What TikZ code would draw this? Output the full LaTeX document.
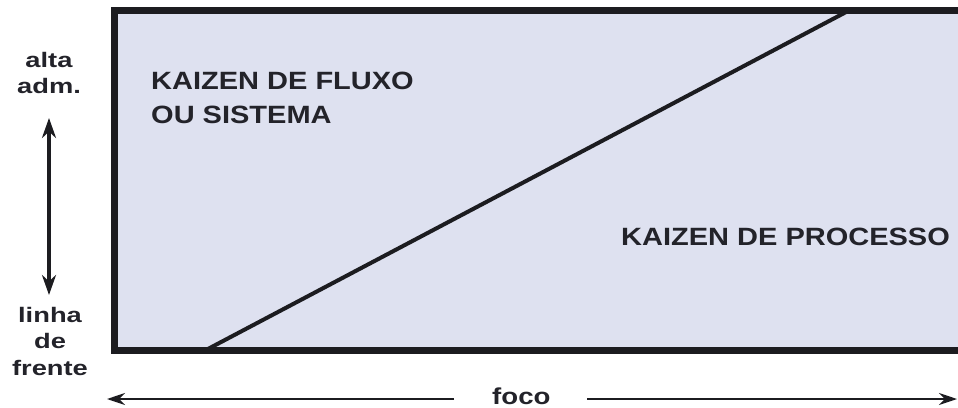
\documentclass[tikz,border=0pt]{standalone}
\usepackage{fontspec}
\setmainfont{Liberation Sans}
\newfontfamily\mainlab[FakeStretch=1.16]{Liberation Sans Bold}
\newfontfamily\sidelab[FakeStretch=1.3]{Liberation Sans Bold}
\newfontfamily\focolab[FakeStretch=1.2]{Liberation Sans Bold}
\usetikzlibrary{arrows.meta}
\definecolor{boxfill}{RGB}{222,225,240}
\definecolor{inkdark}{RGB}{28,28,32}
\definecolor{txtdark}{RGB}{35,35,42}
\tikzset{
  bigtext/.style={inner sep=0pt, text=txtdark, font=\mainlab\fontsize{25}{34}\selectfont, align=left},
  sidetext/.style={inner sep=0pt, text=txtdark, font=\sidelab\fontsize{21}{26.5}\selectfont, align=center},
  axisarrow/.style={draw=inkdark, line width=2.4pt, -{Stealth[length=18pt,width=12pt]}},
  vaxis/.style={draw=inkdark, line width=3.4pt, {Stealth[length=20pt,width=14pt]}-{Stealth[length=20pt,width=14pt]}}
}
\begin{document}
\begin{tikzpicture}[x=1pt,y=-1pt]
\clip (0,0) rectangle (958,407);
\fill[white] (0,0) rectangle (958,407);
% main box
\coordinate (bl) at (114,350.5);
\coordinate (tr) at (962,10.5);
\filldraw[fill=boxfill, draw=inkdark, line width=7pt] (bl) rectangle (tr);
% diagonal
\coordinate (dstart) at (206,350);
\coordinate (dend) at (849,10.5);
\draw[inkdark, line width=4pt] (dstart) -- (dend);
% labels
\node[bigtext, anchor=north west] (fluxo) at (151,72) {KAIZEN DE FLUXO\\OU SISTEMA};
\node[bigtext, anchor=base west] (processo) at (621,245) {KAIZEN DE PROCESSO};
% left axis
\node[sidetext, anchor=north] (alta) at (49,52) {alta\\adm.};
\node[sidetext, anchor=north] (linha) at (50,307) {linha\\de\\frente};
\coordinate (vtop) at (49,118);
\coordinate (vbot) at (49,295);
\draw[vaxis] (vtop) -- (vbot);
% bottom axis
\node[inner sep=0pt, text=txtdark, font=\focolab\fontsize{23}{27}\selectfont, anchor=base west] (foco) at (492,404) {foco};
\coordinate (hlstart) at (454,399);
\coordinate (hltip) at (107,399);
\coordinate (hrstart) at (587,399);
\coordinate (hrtip) at (957,399);
\draw[axisarrow] (hlstart) -- (hltip);
\draw[axisarrow] (hrstart) -- (hrtip);
\end{tikzpicture}
\end{document}
